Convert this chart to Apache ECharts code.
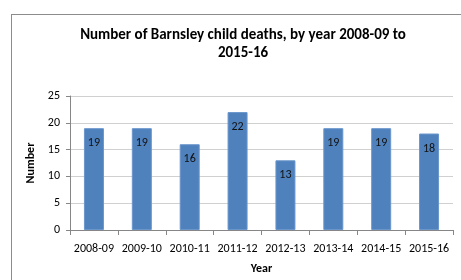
<!DOCTYPE html>
<html>
<head>
<meta charset="utf-8">
<script src="https://cdn.jsdelivr.net/npm/echarts@6/dist/echarts.min.js"></script>
<style>
  html, body { margin: 0; padding: 0; background: #fff; }
  #frame { position: absolute; left: 11px; top: 14px; width: 460px; height: 280px; border: 1px solid #8c8c8c; box-sizing: border-box; }
  #chart { position: absolute; left: 0; top: 0; width: 461px; height: 280px; }
</style>
</head>
<body>
<div id="frame"></div>
<div id="chart"></div>
<script>
// data
const years = ['2008-09', '2009-10', '2010-11', '2011-12', '2012-13', '2013-14', '2014-15', '2015-16'];
const deaths = [19, 19, 16, 22, 13, 19, 19, 18];
const yTicks = [0, 5, 10, 15, 20, 25];

const font = 'Carlito, "Liberation Sans", "DejaVu Sans", sans-serif';

const myChart = echarts.init(document.getElementById('chart'));
myChart.setOption({
  animation: false,
  textStyle: { fontFamily: font },
  title: {
    text: 'Number of Barnsley child deaths, by year 2008-09 to\n2015-16',
    left: 238,
    top: 21,
    textAlign: 'center',
    textStyle: { fontSize: 15, fontWeight: 'bold', color: '#000', lineHeight: 18, fontFamily: font }
  },
  grid: { left: 70, right: 8, top: 96, bottom: 50 },
  xAxis: {
    type: 'category',
    data: years,
    name: 'Year',
    nameLocation: 'middle',
    nameGap: 33,
    nameTextStyle: { fontSize: 12, fontWeight: 'bold', color: '#000' },
    axisLine: { lineStyle: { color: '#868686' } },
    axisTick: { show: true, length: 5, lineStyle: { color: '#868686' } },
    axisLabel: { color: '#000', fontSize: 12, margin: 13, interval: 0 }
  },
  yAxis: {
    type: 'value',
    min: yTicks[0],
    max: yTicks[yTicks.length - 1],
    interval: 5,
    name: 'Number',
    nameLocation: 'middle',
    nameGap: 31,
    nameTextStyle: { fontSize: 12, fontWeight: 'bold', color: '#000' },
    axisLine: { show: true, lineStyle: { color: '#868686' } },
    axisTick: { show: true, length: 4, lineStyle: { color: '#868686' } },
    axisLabel: { color: '#000', fontSize: 12, margin: 10 },
    splitLine: { lineStyle: { color: '#d0d0d0' } }
  },
  series: [{
    type: 'bar',
    data: deaths,
    barWidth: 20,
    itemStyle: { color: '#4f81bd', borderColor: '#6a96cc', borderWidth: 1 },
    label: {
      show: true,
      position: 'insideTop',
      distance: 9,
      color: '#111',
      fontSize: 12
    }
  }]
});
</script>
</body>
</html>
